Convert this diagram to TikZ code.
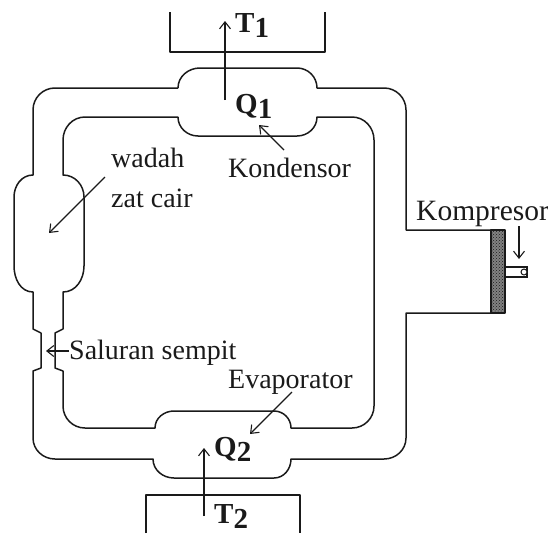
\documentclass[tikz,border=0pt]{standalone}
\usepackage{fontspec}
\setmainfont{Liberation Serif}
\usetikzlibrary{arrows.meta,patterns}
\definecolor{LineDark}{HTML}{1A1A1A}
\newcommand{\subnum}[1]{\raisebox{-5pt}{#1}}
\begin{document}
\begin{tikzpicture}[x=1pt,y=-1pt,pipe/.style={draw=LineDark,line width=1.5pt,line join=round},arrow/.style={-{Straight Barb[length=7pt,width=11pt]},draw=LineDark,line width=1.1pt},label/.style={font=\fontsize{28}{30}\selectfont,inner sep=0pt,text=LineDark},heatlabel/.style={font=\fontsize{29}{31}\selectfont\bfseries,inner sep=0pt,text=LineDark}]
\useasboundingbox (0,0) rectangle (548,533);
% reservoirs
\draw[pipe] (170,12)--(170,52)--(325,52)--(325,12);
\draw[pipe] (146,533)--(146,495)--(300,495)--(300,533);
% outer wall of the tube
\draw[pipe] (178,88)--(55,88) to[out=180,in=90] (33,110)--(33,175) to[out=180,in=90] (14,197)--(14,266) to[out=-90,in=180] (33,292)--(33,329)--(41,333)--(41,368)--(33,371)--(33,438) to[out=-90,in=180] (55,459)--(153,459) to[out=-90,in=180] (174,478)--(274,478) to[out=0,in=-90] (291,459)--(384,459) to[out=0,in=-90] (406,438)--(406,313)--(491,313);
\draw[pipe] (491,230)--(406,230)--(406,110) to[out=90,in=0] (384,88)--(317,88) to[out=90,in=0] (297,68)--(200,68) to[out=180,in=90] (178,88);
% inner wall of the tube
\draw[pipe] (178,117)--(85,117) to[out=180,in=90] (63,140)--(63,175) to[out=0,in=90] (84,197)--(84,266) to[out=-90,in=0] (63,292)--(63,329)--(55,333)--(55,368)--(63,371)--(63,406) to[out=-90,in=180] (85,428)--(155,428) to[out=90,in=180] (174,411)--(274,411) to[out=0,in=90] (291,428)--(352,428) to[out=0,in=-90] (374,406)--(374,140) to[out=90,in=0] (352,117)--(317,117) to[out=-90,in=0] (297,136)--(198,136) to[out=180,in=-90] (178,117);
% piston
\draw[draw=LineDark,line width=1.2pt] (505,267) rectangle (527,277);
\draw[draw=LineDark,line width=1pt,fill=white] (524,272) circle (3);
\draw[pipe,preaction={fill=LineDark!55},pattern=crosshatch dots,pattern color=LineDark] (491,230) rectangle (505,313);
% labels
\node[heatlabel,anchor=base west] (tempa) at (235,32) {T\subnum{1}};
\node[heatlabel,anchor=base west] (qa) at (235,113) {Q\subnum{1}};
\node[label,anchor=base west] (kondensor) at (228,177) {Kondensor};
\node[label,anchor=base west] (wadah) at (111,167) {wadah};
\node[label,anchor=base west] (zat) at (111,207) {zat cair};
\node[label,anchor=base west,font=\fontsize{29.5}{31}\selectfont] (kompresor) at (416,220) {Kompresor};
\node[label,anchor=base west] (saluran) at (69,359) {Saluran sempit};
\node[label,anchor=base west] (evaporator) at (228,388) {Evaporator};
\node[heatlabel,anchor=base west] (qb) at (214,456) {Q\subnum{2}};
\node[heatlabel,anchor=base west] (tempb) at (214,523) {T\subnum{2}};
% arrows
\coordinate (tipa) at (225,21);
\coordinate (taila) at (225,100);
\coordinate (tipb) at (204,448);
\coordinate (tailb) at (204,516);
\coordinate (tipw) at (49,233);
\coordinate (tailw) at (105,177);
\coordinate (tipk) at (259,125);
\coordinate (tailk) at (284,150);
\coordinate (tipe) at (250,434);
\coordinate (taile) at (292,392);
\coordinate (tips) at (46,351);
\coordinate (tails) at (69,351);
\coordinate (tipc) at (519,259);
\coordinate (tailc) at (519,226);
\draw[arrow] (taila)--(tipa);
\draw[arrow] (tailb)--(tipb);
\draw[arrow] (tailw)--(tipw);
\draw[arrow] (tailk)--(tipk);
\draw[arrow] (taile)--(tipe);
\draw[arrow] (tails)--(tips);
\draw[arrow] (tailc)--(tipc);
\end{tikzpicture}
\end{document}
